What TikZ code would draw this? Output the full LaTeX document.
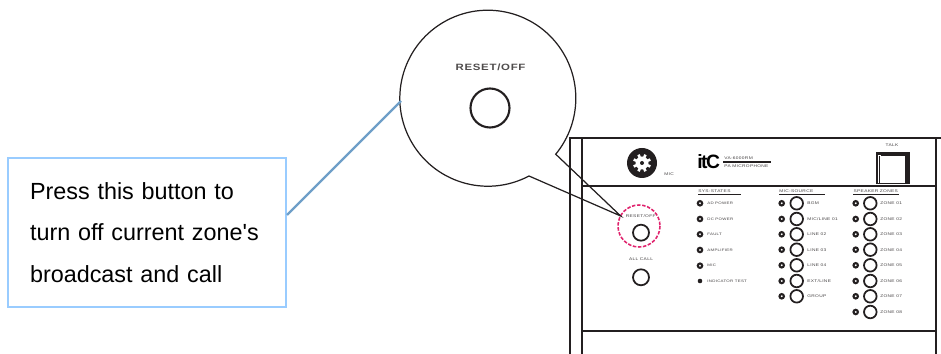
\documentclass[tikz,border=0pt]{standalone}
\usepackage{fontspec}
\setmainfont{Liberation Sans}
\newfontfamily\panelfont[FakeStretch=1.25,LetterSpace=8]{Liberation Sans}
\newfontfamily\logofont[LetterSpace=-8]{Liberation Sans}
\usetikzlibrary{positioning}

\definecolor{calloutblue}{HTML}{99CCFF}
\definecolor{leaderblue}{HTML}{6F9FC8}
\definecolor{ringpink}{HTML}{E0246E}
\definecolor{inkdark}{HTML}{231F20}

\tikzset{
  panelline/.style={inkdark, line width=1.1pt},
  outline/.style={inkdark, line width=0.7pt},
  ledring/.style={inkdark, line width=1.2pt, fill=white},
  bigbutton/.style={inkdark, line width=1pt, fill=white},
  tinylabel/.style={inkdark!85, inner sep=0pt, font=\panelfont\fontsize{2.2}{2.6}\selectfont},
  headlabel/.style={tinylabel, anchor=west},
  rowlabel/.style={tinylabel, anchor=west},
  syslabel/.style={rowlabel, font=\panelfont\fontsize{2}{2.4}\selectfont}
}

\begin{document}
\begin{tikzpicture}[x=0.02cm, y=-0.02cm]
  \useasboundingbox (0,0) rectangle (941,354);

  % Panel frame
  \draw[panelline] (570,354) -- (570,138) -- (941,138);
  \draw[panelline] (582,354) -- (582,138);
  \draw[panelline] (936,354) -- (936,138);
  \draw[panelline] (582,185.7) -- (936,185.7);
  \draw[panelline] (582,330.7) -- (936,330.7);

  % Mic knob
  \fill[inkdark] (642,163) circle (15);
  \foreach \a in {0,45,...,315}
    \draw[white, line width=1.5pt] (642,163) -- ++(\a+22.5:9);
  \fill[white] (642,163) circle (6.5);
  \fill[inkdark] (642,163) circle (2);
  \node[rowlabel] (miclabel) at (664,174.5) {MIC};

  % Logo
  \node[inner sep=0pt, anchor=base west, font=\logofont\bfseries\fontsize{11}{11}\selectfont] (logo) at (697,169) {itC};
  \node[headlabel] (model) at (724,157.8) {VA-6000RM};
  \draw[inkdark, line width=0.9pt] (723,162) -- (771,162);
  \node[headlabel] (micname) at (724,166.2) {PA MICROPHONE};

  % Talk button
  \node[tinylabel] (talklabel) at (892,145) {TALK};
  \fill[inkdark] (875.5,151.7) rectangle (910,184.5);
  \fill[white] (880,155.7) rectangle (905.3,182.7);
  \draw[white, line width=0.35pt] (878.4,183) -- (878.4,155) -- (881,155);

  % Reset and all call
  \draw[ringpink, line width=0.9pt, dash pattern=on 2pt off 0.9pt] (639,226) circle (21);
  \node[tinylabel] (resetlabel) at (640.7,216) {RESET/OFF};
  \draw[bigbutton] (641,232.7) circle (8);
  \node[tinylabel] (allcalllabel) at (641,259.5) {ALL CALL};
  \draw[bigbutton] (641,277.3) circle (8);

  % System states
  \node[headlabel] (sysstates) at (698,191.3) {SYS-STATES};
  \draw[inkdark, line width=0.9pt] (698,194.7) -- (741,194.7);
  \foreach \y/\txt/\i in {203.3/AD POWER/1, 219/DC POWER/2, 234.3/FAULT/3, 250/AMPLIFIER/4, 265.7/MIC/5} {
    \draw[ledring] (700,\y) circle (2.2);
    \node[syslabel] (sys\i) at (707,\y) {\txt};
  }
  \fill[inkdark] (700,281) circle (2.3);
  \node[syslabel] (sys6) at (707,281) {INDICATOR TEST};

  % Mic source
  \node[headlabel] (micsource) at (779,191.3) {MIC-SOURCE};
  \draw[inkdark, line width=0.9pt] (779,194.7) -- (825,194.7);
  \foreach \y/\txt/\i in {203.3/BGM/1, 219/{MIC/LINE 01}/2, 234.3/LINE 02/3, 249.7/LINE 03/4, 265.3/LINE 04/5, 281/{EXT/LINE}/6, 296.3/GROUP/7} {
    \draw[ledring] (781.7,\y) circle (2.2);
    \draw[bigbutton] (796.7,\y) circle (6.3);
    \node[rowlabel] (src\i) at (807,\y) {\txt};
  }

  % Speaker zones
  \node[headlabel] (zones) at (853.3,191.3) {SPEAKER ZONES};
  \draw[inkdark, line width=0.9pt] (853.3,194.7) -- (899,194.7);
  \foreach \y/\i in {203.3/1, 219/2, 234.3/3, 249.7/4, 265.3/5, 281/6, 296.3/7, 312/8} {
    \draw[ledring] (855.7,\y) circle (2.2);
    \draw[bigbutton] (870.3,\y) circle (6.3);
    \node[rowlabel] (zone\i) at (880,\y) {ZONE 0\i};
  }

  % Magnified lens with its tail
  \coordinate (tailtip) at (620.7,216);
  \draw[outline, line join=miter] (tailtip) -- (529,176) arc (62.1:399.5:88) -- cycle;
  \node[inkdark!80, inner sep=0pt, font=\panelfont\bfseries\fontsize{5.2}{6}\selectfont] (lenslabel) at (490.5,67.5) {RESET/OFF};
  \draw[inkdark, line width=1.2pt] (490,108) circle (19.5);

  % Callout
  \node[draw=calloutblue, line width=1.1pt, inner xsep=0.44cm, inner ysep=0pt, text width=4.68cm,
        minimum height=2.98cm, align=left, font=\fontsize{13.3}{23.8}\selectfont] (callout) at (147,232.5)
        {Press this button to\\turn off current zone\textquotesingle s\\broadcast and call};
  \coordinate (leaderfoot) at (287,215);
  \coordinate (leadertip) at (401,101);
  \draw[leaderblue, line width=1.4pt] (leaderfoot) -- (leadertip);

\end{tikzpicture}
\end{document}
